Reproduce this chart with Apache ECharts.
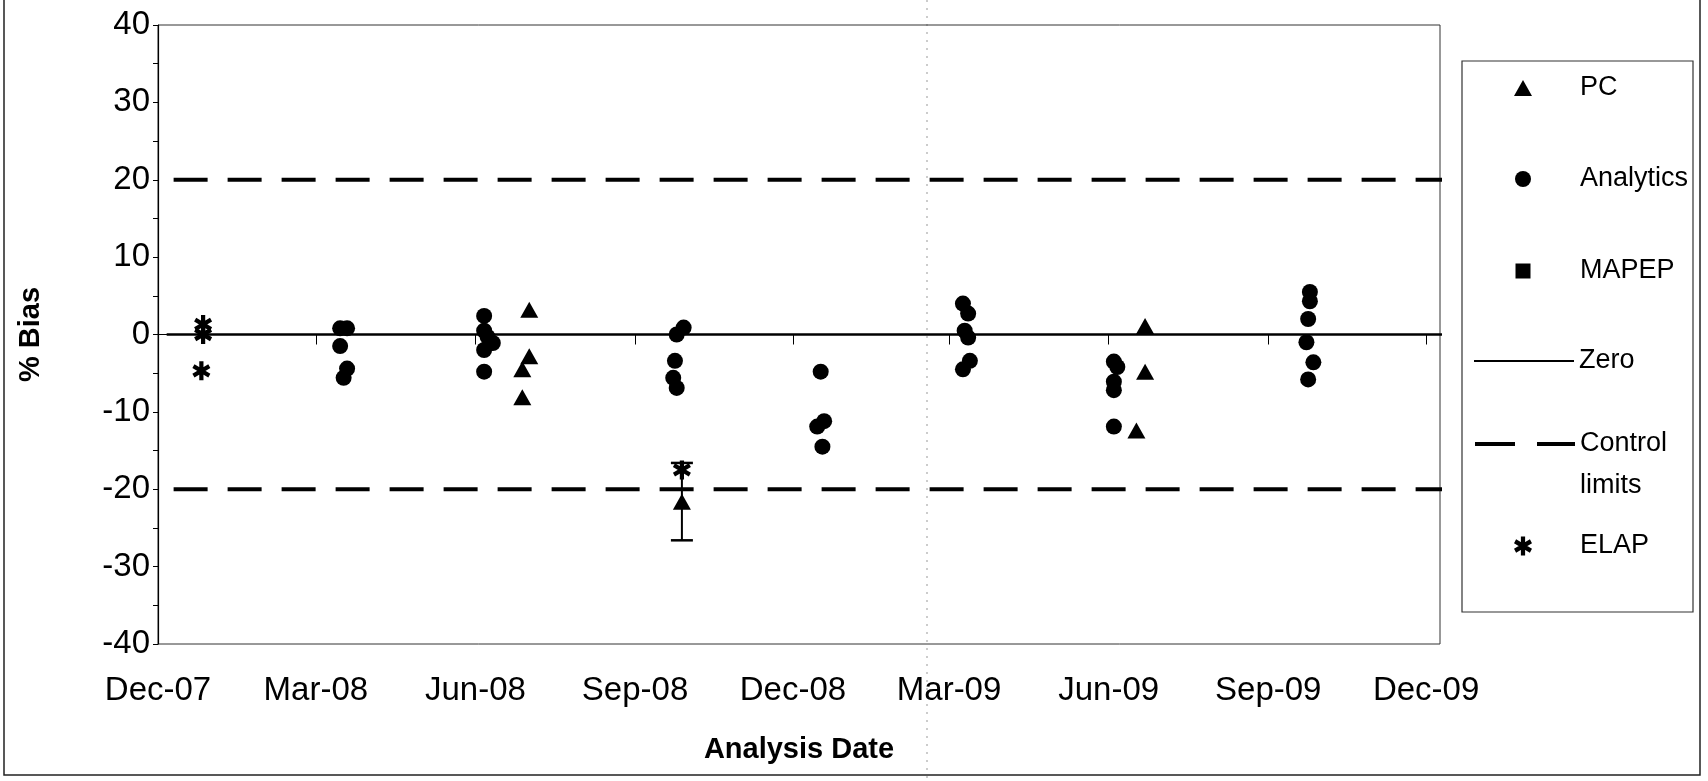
<!DOCTYPE html>
<html>
<head>
<meta charset="utf-8">
<script src="https://cdn.jsdelivr.net/npm/echarts@6/dist/echarts.min.js"></script>
<style>
html,body{margin:0;padding:0;background:#fff;}
#c{width:1708px;height:781px;}
</style>
</head>
<body>
<div id="c"></div>
<script>
// ---------- data ----------
const tickDates  = ['2007-12-01','2008-03-01','2008-06-01','2008-09-01','2008-12-01','2009-03-01','2009-06-01','2009-09-01','2009-12-01'];
const tickLabels = ['Dec-07','Mar-08','Jun-08','Sep-08','Dec-08','Mar-09','Jun-09','Sep-09','Dec-09'];
const axisStart = '2007-12-01';
const axisEnd   = '2009-12-09';

const pcData = [
  ['2008-07-02', 3.2], ['2008-07-02', -2.8], ['2008-06-28', -4.5], ['2008-06-28', -8.1],
  ['2008-09-28', -21.6],
  ['2009-06-22', 1.1], ['2009-06-22', -4.8], ['2009-06-17', -12.4]
];
// [date, low, high]
const pcErrorBars = [
  ['2008-09-28', -26.6, -16.6]
];
const analyticsData = [
  ['2008-03-15', 0.8], ['2008-03-19', 0.8], ['2008-03-15', -1.5], ['2008-03-19', -4.4], ['2008-03-17', -5.6],
  ['2008-06-06', 2.4], ['2008-06-06', 0.5], ['2008-06-08', -0.3], ['2008-06-11', -1.1], ['2008-06-06', -2.0], ['2008-06-06', -4.8],
  ['2008-09-29', 0.9], ['2008-09-25', 0.0], ['2008-09-24', -3.4], ['2008-09-23', -5.6], ['2008-09-25', -6.9],
  ['2008-12-17', -4.8], ['2008-12-19', -11.2], ['2008-12-15', -11.9], ['2008-12-18', -14.5],
  ['2009-03-09', 4.0], ['2009-03-12', 2.7], ['2009-03-10', 0.5], ['2009-03-12', -0.4], ['2009-03-13', -3.4], ['2009-03-09', -4.5],
  ['2009-06-04', -3.5], ['2009-06-06', -4.2], ['2009-06-04', -6.1], ['2009-06-04', -7.2], ['2009-06-04', -11.9],
  ['2009-09-25', 5.5], ['2009-09-25', 4.3], ['2009-09-24', 2.0], ['2009-09-23', -1.0], ['2009-09-27', -3.6], ['2009-09-24', -5.8]
];
const mapepData = [];
const elapData = [
  ['2007-12-27', 1.3], ['2007-12-27', 0.0], ['2007-12-26', -4.7],
  ['2008-09-28', -17.5]
];
const zeroLine   = [['2007-12-06', 0], ['2010-03-01', 0]];
const upperLimit = [['2007-12-10', 20], ['2010-03-01', 20]];
const lowerLimit = [['2007-12-10', -20], ['2010-03-01', -20]];

// ---------- helpers ----------
function ts(d){ const p = d.split('-').map(Number); return Date.UTC(p[0], p[1]-1, p[2]); }
function pts(arr){ return arr.map(p => [ts(p[0]), p[1]]); }
const tickTs = tickDates.map(ts);
const F = 'Liberation Sans, Arial, sans-serif';
const ASTERISK = 'path://M-2.3,-10L2.3,-10L2.3,10L-2.3,10Z M7.51,-6.99L9.81,-3.01L-7.51,6.99L-9.81,3.01Z M-9.81,-3.01L-7.51,-6.99L9.81,3.01L7.51,6.99Z';

function markerLegend(name, cy, w, h){
  return {
    data: [name], orient: 'vertical', left: 1523 - w / 2, top: cy - 14, padding: 0,
    itemWidth: w, itemHeight: h, itemGap: 0, selectedMode: false, symbolKeepAspect: false,
    formatter: function (n) { return '{t|' + n + '}'; },
    textStyle: { fontFamily: F, fontSize: 27, color: '#000', lineHeight: 28,
      rich: { t: { fontFamily: F, fontSize: 27, color: '#000', lineHeight: 28, padding: [0, 0, 0, 52 - w / 2] } } },
    itemStyle: { opacity: 1 }
  };
}
function lineLegend(name, cy, extra){
  return Object.assign({
    data: [name], orient: 'vertical', left: 1473, top: cy - 14, padding: 0,
    itemWidth: 100, itemHeight: 14, itemGap: 0, selectedMode: false,
    textStyle: { fontFamily: F, fontSize: 27, color: '#000', lineHeight: 28 },
    itemStyle: { color: 'rgba(0,0,0,0)', borderColor: 'rgba(0,0,0,0)', borderWidth: 0 }
  }, extra || {});
}

const chart = echarts.init(document.getElementById('c'), null, { renderer: 'canvas' });
chart.setOption({
  animation: false,
  backgroundColor: '#fff',
  grid: { left: 158, right: 268, top: 25, bottom: 137, show: true, borderColor: '#333', borderWidth: 1, containLabel: false, outerBoundsMode: 'none' },
  xAxis: {
    type: 'value', min: ts(axisStart), max: ts(axisEnd),
    axisLine: { show: true, lineStyle: { color: '#000', width: 1.2 } },
    axisTick: { show: true, customValues: tickTs, length: 10, lineStyle: { color: '#000' } },
    axisLabel: {
      customValues: tickTs,
      formatter: function (v) {
        for (let i = 0; i < tickTs.length; i++) { if (Math.abs(tickTs[i] - v) < 1000) return tickLabels[i]; }
        return '';
      },
      fontSize: 33, color: '#000', margin: 30, fontFamily: F
    },
    splitLine: { show: false },
    name: 'Analysis Date', nameLocation: 'middle', nameGap: 91,
    nameTextStyle: { fontSize: 29, fontWeight: 'bold', color: '#000', fontFamily: F }
  },
  yAxis: {
    type: 'value', min: -40, max: 40, interval: 10,
    axisLine: { show: true, lineStyle: { color: '#000', width: 1.2 } },
    axisTick: { show: true, length: 5, lineStyle: { color: '#000' } },
    minorTick: { show: true, splitNumber: 2, length: 5, lineStyle: { color: '#000' } },
    axisLabel: { fontSize: 33, color: '#000', margin: 8, fontFamily: F },
    splitLine: { show: false },
    name: '% Bias', nameLocation: 'middle', nameRotate: 90, nameGap: 113,
    nameTextStyle: { fontSize: 29, fontWeight: 'bold', color: '#000', fontFamily: F }
  },
  legend: [
    markerLegend('PC', 88, 18, 16),
    markerLegend('Analytics', 179, 16, 16),
    markerLegend('MAPEP', 271, 15, 15),
    lineLegend('Zero', 361),
    lineLegend('Control limits', 444, {
      top: 444 - 63,
      formatter: function () { return '{e| }\n{t|Control}\n{t|limits}'; },
      textStyle: { fontFamily: F, fontSize: 27, color: '#000', lineHeight: 42,
        rich: {
          e: { fontFamily: F, fontSize: 27, color: '#000', lineHeight: 42 },
          t: { fontFamily: F, fontSize: 27, color: '#000', lineHeight: 42 }
        } },
      lineStyle: { color: '#000', width: 4, type: [40, 22] }
    }),
    markerLegend('ELAP', 546, 18, 19)
  ],
  graphic: [
    { type: 'rect', z: -1, shape: { x: 1462, y: 61, width: 231, height: 551 }, style: { fill: 'none', stroke: '#333', lineWidth: 1.2 } },
    { type: 'rect', z: -1, shape: { x: 4, y: -5, width: 1696, height: 780 }, style: { fill: 'none', stroke: '#222', lineWidth: 1.5 } },
    { type: 'line', z: -2, shape: { x1: 927, y1: 0, x2: 927, y2: 781 }, style: { stroke: '#999', lineWidth: 1, lineDash: [2, 6] } }
  ],
  series: [
    { name: 'Zero', type: 'line', data: pts(zeroLine), symbol: 'none', silent: true, z: 2,
      lineStyle: { color: '#000', width: 2.5 }, itemStyle: { color: '#000' } },
    { name: 'Control limits', type: 'line', data: pts(upperLimit), symbol: 'none', silent: true, z: 2,
      lineStyle: { color: '#000', width: 4, type: [34, 20], cap: 'butt' }, itemStyle: { color: '#000' } },
    { name: 'Control limits', type: 'line', data: pts(lowerLimit), symbol: 'none', silent: true, z: 2,
      lineStyle: { color: '#000', width: 4, type: [34, 20], cap: 'butt' }, itemStyle: { color: '#000' } },
    { name: 'PC error', type: 'custom', data: pcErrorBars.map(e => [ts(e[0]), e[1], e[2]]), z: 3,
      encode: { x: 0, y: [1, 2] },
      renderItem: function (params, api) {
        const x = api.value(0);
        const lo = api.coord([x, api.value(1)]);
        const hi = api.coord([x, api.value(2)]);
        const w = 11;
        return { type: 'group', children: [
          { type: 'line', shape: { x1: lo[0], y1: lo[1], x2: hi[0], y2: hi[1] }, style: { stroke: '#000', lineWidth: 2 } },
          { type: 'line', shape: { x1: lo[0] - w, y1: lo[1], x2: lo[0] + w, y2: lo[1] }, style: { stroke: '#000', lineWidth: 2.5 } },
          { type: 'line', shape: { x1: hi[0] - w, y1: hi[1], x2: hi[0] + w, y2: hi[1] }, style: { stroke: '#000', lineWidth: 2.5 } }
        ] };
      }
    },
    { name: 'PC', type: 'scatter', data: pts(pcData), symbol: 'triangle', symbolSize: [18, 16], z: 4,
      itemStyle: { color: '#000', opacity: 1 } },
    { name: 'Analytics', type: 'scatter', data: pts(analyticsData), symbol: 'circle', symbolSize: 16, z: 4,
      itemStyle: { color: '#000', opacity: 1 } },
    { name: 'MAPEP', type: 'scatter', data: pts(mapepData), symbol: 'rect', symbolSize: 15, z: 4,
      itemStyle: { color: '#000', opacity: 1 } },
    { name: 'ELAP', type: 'scatter', data: pts(elapData), symbol: ASTERISK, symbolSize: [18, 19], z: 5,
      itemStyle: { color: '#000', opacity: 1 } }
  ]
});
</script>
</body>
</html>
